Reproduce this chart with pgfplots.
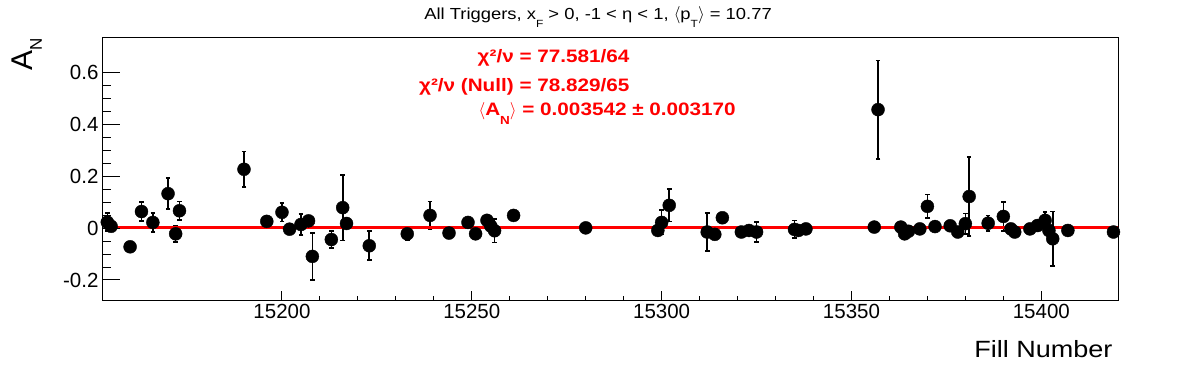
\documentclass[border=0pt]{standalone}
\usepackage{fontspec}
\setmainfont{Liberation Sans}
\newfontfamily\rootfont[FakeStretch=1.15]{Liberation Sans}
\usepackage{graphicx}
\usepackage{pgfplots}
\usepackage{pgfplotstable}
\pgfplotsset{compat=1.18}
\newcommand\rsub[1]{\raisebox{-0.5em}{\scalebox{0.65}{#1}}}

\pgfplotstableread{
x y e
15154 0.023 0.035
15155 0.007 0.010
15160 -0.072 0.010
15163 0.064 0.036
15166 0.022 0.036
15170 0.133 0.060
15172 -0.022 0.032
15173 0.067 0.036
15190 0.227 0.068
15196 0.026 0.012
15200 0.061 0.035
15202 -0.004 0.012
15205 0.014 0.040
15207 0.028 0.012
15208 -0.109 0.090
15213 -0.044 0.033
15216 0.079 0.127
15217 0.018 0.012
15223 -0.068 0.056
15233 -0.022 0.025
15239 0.049 0.053
15244 -0.019 0.012
15249 0.022 0.018
15251 -0.022 0.012
15254 0.030 0.012
15255 0.008 0.015
15256 -0.010 0.046
15261 0.049 0.012
15280 0.001 0.010
15299 -0.009 0.010
15300 0.022 0.047
15302 0.088 0.062
15312 -0.015 0.073
15314 -0.024 0.012
15316 0.040 0.018
15321 -0.015 0.012
15323 -0.009 0.012
15325 -0.015 0.038
15335 -0.005 0.034
15336 -0.009 0.010
15338 -0.003 0.010
15356 0.004 0.010
15357 0.457 0.190
15363 0.004 0.010
15364 -0.022 0.012
15365 -0.012 0.010
15368 -0.003 0.010
15370 0.084 0.046
15372 0.006 0.010
15376 0.009 0.010
15378 -0.015 0.010
15380 0.017 0.040
15381 0.122 0.153
15386 0.019 0.030
15390 0.045 0.055
15392 -0.003 0.010
15393 -0.015 0.010
15397 -0.003 0.010
15399 0.010 0.010
15401 0.030 0.032
15402 -0.009 0.010
15403 -0.041 0.105
15407 -0.009 0.010
15419 -0.015 0.010
}\fills

\begin{document}
\begin{tikzpicture}
\path[use as bounding box] (-102pt,-71pt) rectangle (1094pt,301pt);
\begin{axis}[
  at={(0pt,0pt)}, anchor=south west,
  scale only axis, width=1016pt, height=264pt,
  xmin=15152.6, xmax=15420.2, ymin=-0.281, ymax=0.737,
  axis line style={line width=1pt},
  tick align=inside, xtick pos=left, ytick=\empty,
  scaled x ticks=false,
  xtick={15200,15250,15300,15350,15400},
  xticklabels={15200,15250,15300,15350,15400},
  minor x tick num=4,
  major tick length=10pt, minor tick length=5pt,
  tick style={black, line width=1pt},
  xticklabel style={font=\fontsize{20.5}{24}\selectfont},
]
\addplot[gray!50, dashed, line width=0.6pt, forget plot] coordinates {(15152.6,0) (15420.2,0)};
\addplot[only marks, mark=*, mark size=6.5pt, black,
  error bars/.cd, y dir=both, y explicit,
  error bar style={line width=1.6pt, black},
  error mark options={rotate=90, mark size=2.3pt, line width=1.6pt, black}]
  table[x=x, y=y, y error=e]{\fills};
\addplot[red, line width=2.6pt] coordinates {(15155.3,0.003542) (15420.2,0.003542)};
\end{axis}
\begin{axis}[
  at={(0pt,0pt)}, anchor=south west,
  scale only axis, width=1016pt, height=264pt,
  xmin=15152.6, xmax=15420.2, ymin=-0.281, ymax=0.737,
  axis line style={draw=none},
  tick align=inside, ytick pos=left, xtick=\empty,
  ytick={-0.2,0,0.2,0.4,0.6},
  yticklabels={-0.2,0,0.2,0.4,0.6},
  minor y tick num=3,
  major tick length=18pt, minor tick length=9pt,
  tick style={black, line width=1pt},
  yticklabel style={font=\fontsize{20.5}{24}\selectfont},
]
\end{axis}
\node[anchor=base, font=\rootfont\fontsize{16}{19}\selectfont] at (496pt,281pt)
  {All Triggers, x\rsub{F} > 0, -1 < η < 1, $\langle$p\rsub{T}$\rangle$ = 10.77};
\node[anchor=base east, text=red, font=\rootfont\bfseries\fontsize{18}{21}\selectfont] at (531pt,238pt) {χ²/ν = 77.581/64};
\node[anchor=base east, text=red, font=\rootfont\bfseries\fontsize{18}{21}\selectfont] at (531pt,209pt) {χ²/ν (Null) = 78.829/65};
\node[anchor=base west, text=red, font=\rootfont\bfseries\fontsize{18}{21}\selectfont] at (373pt,185pt) {$\langle$A\rsub{N}$\rangle$ = 0.003542 ± 0.003170};
\node[anchor=base east, font=\rootfont\fontsize{23.5}{28}\selectfont] at (1014pt,-56pt) {Fill Number};
\node[rotate=90, anchor=base east, inner sep=0pt, font=\fontsize{30}{36}\selectfont] at (-69pt,263pt) {A\raisebox{-9pt}{\fontsize{17}{20}\selectfont N}};
\end{tikzpicture}
\end{document}
